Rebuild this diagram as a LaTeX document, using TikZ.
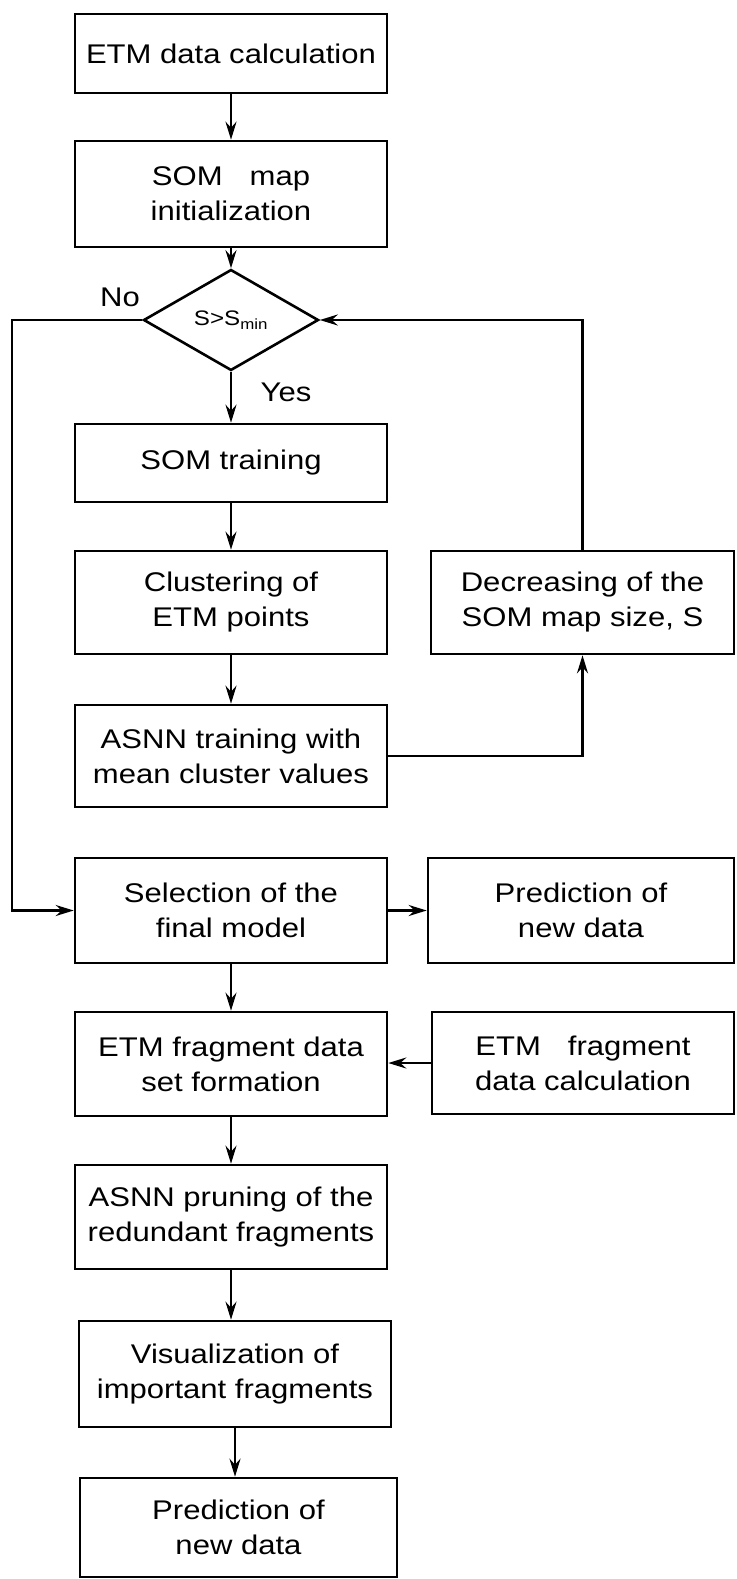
\documentclass[tikz,border=0pt]{standalone}
\usepackage{fontspec}
\setmainfont{Liberation Sans}[FakeStretch=1.15]
\usepackage{tikz}
\usetikzlibrary{arrows.meta}
\usetikzlibrary{shapes.geometric}
\begin{document}
\begin{tikzpicture}[x=1pt, y=-1pt, font=\fontsize{27}{35}\selectfont, block/.style={rectangle, draw, line width=2.6pt, minimum width=312pt, minimum height=104pt, align=center}, decision/.style={diamond, draw, line width=2.6pt, minimum width=175pt, minimum height=101pt, inner sep=0pt, font=\fontsize{21}{25}\selectfont}, flow/.style={line width=2.4pt, -{Stealth[length=18pt, width=11pt, inset=6pt]}}]
	\useasboundingbox (0,0) rectangle (736,1579);
	% left column
	\node[block, minimum height=79pt] (calc) at (231,53.5) {ETM data calculation};
	\node[block, minimum height=106pt] (init) at (231,194) {SOM\quad map\\initialization};
	\node[decision] (test) at (231,320) {S>S\textsubscript{min}};
	\node[block, minimum height=78pt] (somtrain) at (231,463) {SOM training};
	\node[block, minimum height=103pt] (cluster) at (231,602.5) {Clustering of\\ETM points};
	\node[block, minimum height=102pt] (asnntrain) at (231,756) {ASNN training with\\mean cluster values};
	\node[block, minimum height=105pt] (select) at (231,910.5) {Selection of the\\final model};
	\node[block] (fragset) at (231,1064) {ETM fragment data\\set formation};
	\node[block] (prune) at (231,1217) {ASNN pruning of the\\redundant fragments};
	\node[block, minimum height=106pt] (visual) at (235,1374) {Visualization of\\important fragments};
	\node[block, minimum width=317pt, minimum height=99pt] (predictb) at (238.5,1527.5) {Prediction of\\new data};
	% right column
	\node[block, minimum width=303pt, minimum height=103pt] (decrease) at (582.5,602.5) {Decreasing of the\\SOM map size, S};
	\node[block, minimum width=306pt, minimum height=105pt] (predicta) at (581,910.5) {Prediction of\\new data};
	\node[block, minimum width=302pt, minimum height=102pt] (fragcalc) at (583,1063) {ETM\quad fragment\\data calculation};
	% labels
	\node (no) at (120,297) {No};
	\node (yes) at (286,392) {Yes};
	\coordinate (nocorner) at (12,320);
	% connectors
	\draw[flow] (calc) -- (init);
	\draw[flow] (init) -- (test);
	\draw[flow] (test) -- (somtrain);
	\draw[flow] (somtrain) -- (cluster);
	\draw[flow] (cluster) -- (asnntrain);
	\draw[flow] (asnntrain.east) -| (decrease.south);
	\draw[flow] (decrease.north) |- (test.east);
	\draw[flow] (test.west) -- (nocorner) |- (select.west);
	\draw[flow] (select.east) -- (predicta.west);
	\draw[flow] (select) -- (fragset);
	\draw[flow] (fragcalc.west) -- (fragcalc.west -| fragset.east);
	\draw[flow] (fragset) -- (prune);
	\draw[flow] (prune.south) -- (prune.south |- visual.north);
	\draw[flow] (visual.south) -- (visual.south |- predictb.north);
\end{tikzpicture}
\end{document}
